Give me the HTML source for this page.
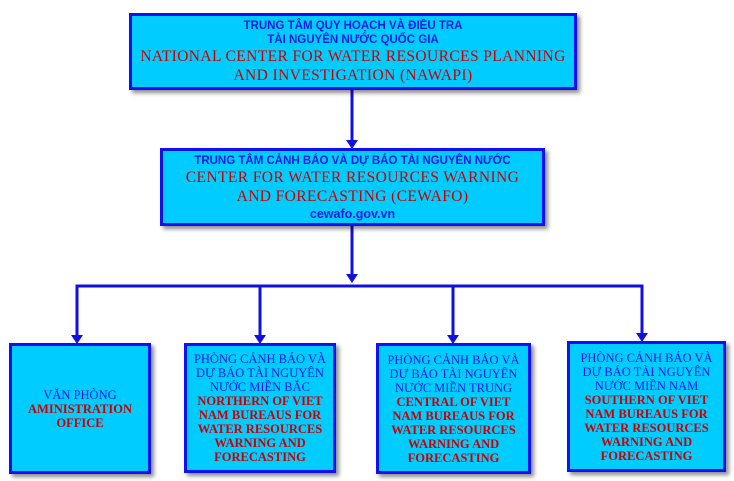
<!DOCTYPE html>
<html><head><style>
body{margin:0;width:734px;height:481px;background:#fff;position:relative;overflow:hidden}
.b{position:absolute;box-sizing:border-box;background:#00ccff;border:3px solid #1010f0;box-shadow:3px 3px 4px rgba(0,0,0,.45);display:flex;flex-direction:column;justify-content:center;align-items:center;text-align:center}
.vs{font-family:"Liberation Sans","DejaVu Sans",sans-serif;font-weight:bold;color:#1a1ae0;font-size:11.5px;line-height:14px}
.en{font-family:"Liberation Serif",serif;color:#cc0000;font-size:15.5px;line-height:19px;letter-spacing:0.4px}
.vt{font-family:"Liberation Serif",serif;color:#1a1ae0;font-size:12.5px;line-height:14px}
.et{font-family:"Liberation Serif",serif;font-weight:bold;color:#cc0000;font-size:12.5px;line-height:14px}
</style></head><body>
<svg width="734" height="481" style="position:absolute;left:0;top:0">
<g stroke="#1010e0" stroke-width="3" fill="none">
<line x1="352" y1="89" x2="352" y2="142"/>
<line x1="352" y1="225" x2="352" y2="276"/>
<polyline points="77,337 77,286 642,286 642,335"/>
<line x1="260" y1="286" x2="260" y2="337"/>
<line x1="453" y1="286" x2="453" y2="337"/>
</g>
<g fill="#1010e0">
<polygon points="346,140 358,140 352,149"/>
<polygon points="346,274 358,274 352,283"/>
<polygon points="71,335 83,335 77,344"/>
<polygon points="254,335 266,335 260,344"/>
<polygon points="447,335 459,335 453,344"/>
<polygon points="636,333 648,333 642,342"/>
</g>
</svg>
<div class="b" style="left:129px;top:13px;width:448px;height:77px">
<div class="vs">TRUNG TÂM QUY HOẠCH VÀ ĐIỀU TRA<br>TÀI NGUYÊN NƯỚC QUỐC GIA</div>
<div class="en">NATIONAL CENTER FOR WATER RESOURCES PLANNING<br>AND INVESTIGATION (NAWAPI)</div>
</div>
<div class="b" style="left:160px;top:148px;width:385px;height:78px">
<div class="vs">TRUNG TÂM CẢNH BÁO VÀ DỰ BÁO TÀI NGUYÊN NƯỚC</div>
<div class="en">CENTER FOR WATER RESOURCES WARNING<br>AND FORECASTING (CEWAFO)</div>
<div class="vs" style="font-size:12.5px;margin-top:1px">cewafo.gov.vn</div>
</div>
<div class="b" style="left:9px;top:343px;width:142px;height:131px">
<div class="vt">VĂN PHÒNG</div><div class="et">AMINISTRATION<br>OFFICE</div>
</div>
<div class="b" style="left:184px;top:343px;width:152px;height:130px">
<div class="vt">PHÒNG CẢNH BÁO VÀ<br>DỰ BÁO TÀI NGUYÊN<br>NƯỚC MIỀN BẮC</div><div class="et">NORTHERN OF VIET<br>NAM BUREAUS FOR<br>WATER RESOURCES<br>WARNING AND<br>FORECASTING</div>
</div>
<div class="b" style="left:376px;top:343px;width:155px;height:131px">
<div class="vt">PHÒNG CẢNH BÁO VÀ<br>DỰ BÁO TÀI NGUYÊN<br>NƯỚC MIỀN TRUNG</div><div class="et">CENTRAL OF VIET<br>NAM BUREAUS FOR<br>WATER RESOURCES<br>WARNING AND<br>FORECASTING</div>
</div>
<div class="b" style="left:567px;top:341px;width:159px;height:131px">
<div class="vt">PHÒNG CẢNH BÁO VÀ<br>DỰ BÁO TÀI NGUYÊN<br>NƯỚC MIỀN NAM</div><div class="et">SOUTHERN OF VIET<br>NAM BUREAUS FOR<br>WATER RESOURCES<br>WARNING AND<br>FORECASTING</div>
</div>
</body></html>
